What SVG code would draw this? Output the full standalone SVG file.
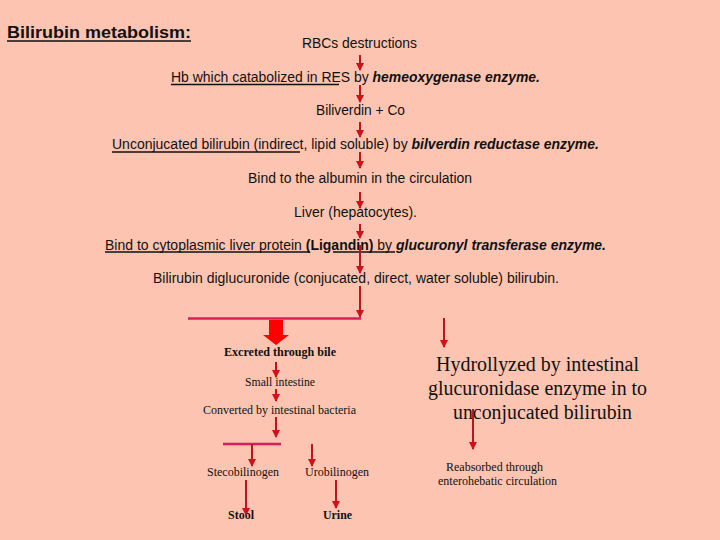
<svg xmlns="http://www.w3.org/2000/svg" width="720" height="540" viewBox="0 0 720 540">
<style>
.s{font-family:"Liberation Sans",Arial,sans-serif;font-size:14px;fill:#111}
.t{font-family:"Liberation Serif","Times New Roman",serif;font-size:12px;fill:#111}
.big{font-family:"Liberation Serif","Times New Roman",serif;font-size:20px;fill:#111}
.bi{font-weight:bold;font-style:italic}
.b{font-weight:bold}
.ul{stroke:#111;stroke-width:1.4}
.ar{stroke:#C0141C;stroke-width:2;fill:none;marker-end:url(#ah)}
.hl{stroke:#D81E5B;stroke-width:2.5;fill:none}
</style>
<defs>
<marker id="ah" markerUnits="userSpaceOnUse" markerWidth="8" markerHeight="8" refX="7" refY="4" orient="auto">
<path d="M0,0 L8,4 L0,8 Z" fill="#D0101A"/>
</marker>
</defs>
<rect width="720" height="540" fill="#FEC4B2"/>

<g id="title">
<text x="7" y="38" class="s b" style="font-size:17px" textLength="184" lengthAdjust="spacingAndGlyphs">Bilirubin metabolism:</text>
<line x1="7" y1="41" x2="191" y2="41" class="ul"/>
</g>

<g id="n-rbc"><text x="302" y="48" class="s" textLength="115" lengthAdjust="spacingAndGlyphs">RBCs destructions</text></g>
<g id="n-hb">
<text x="171" y="82" class="s" textLength="369" lengthAdjust="spacingAndGlyphs">Hb which catabolized in RES by <tspan class="bi">hemeoxygenase enzyme.</tspan></text>
<line x1="171" y1="84.5" x2="339" y2="84.5" class="ul"/>
</g>
<g id="n-biliverdin"><text x="316" y="115" class="s" textLength="89" lengthAdjust="spacingAndGlyphs">Biliverdin + Co</text></g>
<g id="n-unconj">
<text x="112" y="149" class="s" textLength="487" lengthAdjust="spacingAndGlyphs">Unconjucated bilirubin (indirect, lipid soluble) by <tspan class="bi">bilverdin reductase enzyme.</tspan></text>
<line x1="112" y1="152" x2="300" y2="152" class="ul"/>
</g>
<g id="n-albumin"><text x="248" y="183" class="s" textLength="224" lengthAdjust="spacingAndGlyphs">Bind to the albumin in the circulation</text></g>
<g id="n-liver"><text x="294" y="217" class="s" textLength="123" lengthAdjust="spacingAndGlyphs">Liver (hepatocytes).</text></g>
<g id="n-ligandin">
<text x="105" y="250" class="s" textLength="501" lengthAdjust="spacingAndGlyphs">Bind to cytoplasmic liver protein <tspan class="b">(Ligandin)</tspan> by <tspan class="bi">glucuronyl transferase enzyme.</tspan></text>
<line x1="105" y1="252" x2="310" y2="252" class="ul"/>
<line x1="333" y1="252" x2="395" y2="252" class="ul"/>
</g>
<g id="n-diglucuronide"><text x="153" y="283" class="s" textLength="406" lengthAdjust="spacingAndGlyphs">Bilirubin diglucuronide (conjucated, direct, water soluble) bilirubin.</text></g>

<g id="n-bile"><text x="224" y="356" class="t b" textLength="112" lengthAdjust="spacingAndGlyphs">Excreted through bile</text></g>
<g id="n-small"><text x="245" y="386" class="t" textLength="70" lengthAdjust="spacingAndGlyphs">Small intestine</text></g>
<g id="n-bacteria"><text x="203" y="414" class="t" textLength="153" lengthAdjust="spacingAndGlyphs">Converted by intestinal bacteria</text></g>
<g id="n-steco"><text x="207" y="476" class="t" textLength="72" lengthAdjust="spacingAndGlyphs">Stecobilinogen</text></g>
<g id="n-uro"><text x="305" y="476" class="t" textLength="64" lengthAdjust="spacingAndGlyphs">Urobilinogen</text></g>
<g id="n-stool"><text x="228" y="519" class="t b" textLength="26" lengthAdjust="spacingAndGlyphs">Stool</text></g>
<g id="n-urine"><text x="323" y="519" class="t b" textLength="29" lengthAdjust="spacingAndGlyphs">Urine</text></g>

<g id="n-hydro">
<text x="436" y="371" class="big" textLength="203" lengthAdjust="spacingAndGlyphs">Hydrollyzed by intestinal</text>
<text x="428" y="395" class="big" textLength="219" lengthAdjust="spacingAndGlyphs">glucuronidase enzyme in to</text>
<text x="453" y="419" class="big" textLength="179" lengthAdjust="spacingAndGlyphs">unconjucated bilirubin</text>
</g>
<g id="n-reabs">
<text x="446" y="471" class="t" textLength="97" lengthAdjust="spacingAndGlyphs">Reabsorbed through</text>
<text x="438" y="485" class="t" textLength="119" lengthAdjust="spacingAndGlyphs">enterohebatic circulation</text>
</g>

<g id="connectors">
<line x1="360" y1="55" x2="360" y2="70" class="ar"/>
<line x1="360" y1="85" x2="360" y2="102" class="ar"/>
<line x1="360" y1="122" x2="360" y2="137" class="ar"/>
<line x1="360" y1="152" x2="360" y2="168" class="ar"/>
<line x1="360" y1="192" x2="360" y2="208" class="ar"/>
<line x1="360" y1="224" x2="360" y2="238" class="ar"/>
<line x1="360" y1="245" x2="360" y2="273" class="ar"/>
<line x1="360" y1="286" x2="360" y2="317" class="ar"/>
<line x1="188" y1="318.5" x2="361" y2="318.5" class="hl"/>
<path d="M269,320 H283 V335 H289 L276,345 L263,335 H269 Z" fill="#FF0000"/>
<line x1="276" y1="362" x2="276" y2="377" class="ar"/>
<line x1="276" y1="389" x2="276" y2="401" class="ar"/>
<line x1="276" y1="417" x2="276" y2="437" class="ar"/>
<line x1="223" y1="444" x2="281" y2="444" class="hl"/>
<line x1="252" y1="444" x2="252" y2="466" class="ar"/>
<line x1="312" y1="444" x2="312" y2="466" class="ar"/>
<line x1="246" y1="480" x2="246" y2="515" class="ar"/>
<line x1="336" y1="480" x2="336" y2="508" class="ar"/>
<line x1="444" y1="318" x2="444" y2="347" class="ar"/>
<line x1="473" y1="409" x2="473" y2="449" class="ar"/>
</g>
</svg>
